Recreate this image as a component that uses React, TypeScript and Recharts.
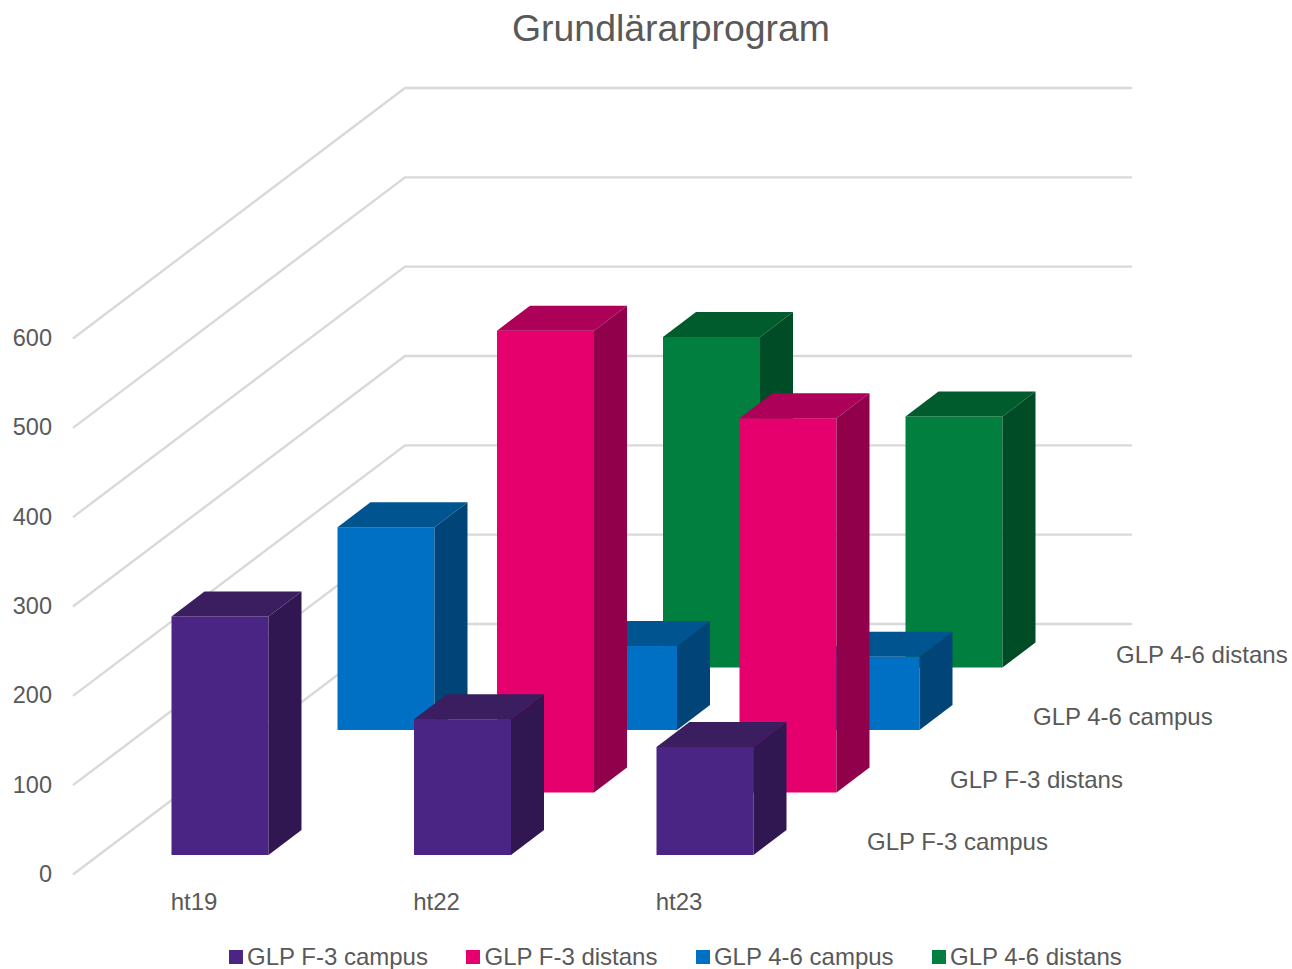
import { BarChart, Bar, XAxis, YAxis, Legend, CartesianGrid } from "recharts";

const periods = ["ht19", "ht22", "ht23"];
const seriesNames = ["GLP F-3 campus", "GLP F-3 distans", "GLP 4-6 campus", "GLP 4-6 distans"];
const f3Campus = [267, 152, 121];
const f3Distans = [null, 517, 419];
const campus46 = [227, 94, 82];
const distans46 = [null, 370, 281];
const yTicks = [0, 100, 200, 300, 400, 500, 600];

const chartData = periods.map((period, i) => ({
  period,
  [seriesNames[0]]: f3Campus[i],
  [seriesNames[1]]: f3Distans[i],
  [seriesNames[2]]: campus46[i],
  [seriesNames[3]]: distans46[i],
}));

// front, top and side shades of every series
const palette = [
  { front: "#4a2583", top: "#3a1e60", side: "#311752" },
  { front: "#e6006e", top: "#ad0059", side: "#91004a" },
  { front: "#0070c5", top: "#005590", side: "#004478" },
  { front: "#007f3f", top: "#005c2d", side: "#004c26" },
];

const textColor = "#595959";
const font = "'Liberation Sans', Arial, sans-serif";
const labelSize = 24;
const barWidth = 97;

// the fake 3D: how far a series row sits from the front of the floor
const rowStep = { dx: 83, dy: -62.5 };
const rowStart = { dx: 0, dy: -18 };
const barDepth = { dx: 33, dy: -25 };
const wallEnd = 1132;

function Bar3D(props: any) {
  const { x, y, width, height, row } = props;
  if (!height || height <= 0) return null;
  const c = palette[row];
  const ox = x + rowStart.dx + rowStep.dx * row;
  const oy = y + rowStart.dy + rowStep.dy * row;
  const d = barDepth;
  const top = `${ox},${oy} ${ox + width},${oy} ${ox + width + d.dx},${oy + d.dy} ${ox + d.dx},${oy + d.dy}`;
  const side = `${ox + width},${oy} ${ox + width + d.dx},${oy + d.dy} ${ox + width + d.dx},${oy + height + d.dy} ${ox + width},${oy + height}`;
  return (
    <g>
      <rect x={ox} y={oy} width={width} height={height} fill={c.front} />
      <polygon points={top} fill={c.top} />
      <polygon points={side} fill={c.side} />
    </g>
  );
}

// grid line bent along the side wall and the back wall
function wallLine(props: any) {
  const y = props.y1;
  const pts = `73,${y + 1.5} 405,${y - 249} ${wallEnd},${y - 249}`;
  return <polyline key={props.key ?? y} points={pts} fill="none" stroke="#d9d9d9" strokeWidth={2.4} />;
}

function ValueTick(props: any) {
  const { y, payload } = props;
  return (
    <text x={52} y={y + 9} textAnchor="end" fontSize={23.5} fontFamily={font} fill={textColor}>
      {payload.value}
    </text>
  );
}

function PeriodTick(props: any) {
  const { x, payload } = props;
  return (
    <text x={x - 49} y={910} fontSize={labelSize} fontFamily={font} fill={textColor}>
      {payload.value}
    </text>
  );
}

function LegendRow({ payload }: any) {
  return (
    <div style={{ display: "flex", gap: 38.5, fontFamily: font, fontSize: labelSize, color: textColor, whiteSpace: "nowrap" }}>
      {(payload ?? []).map((item: any) => (
        <div key={item.value} style={{ display: "flex", alignItems: "center", gap: 4 }}>
          <span style={{ width: 14, height: 14, background: item.color, display: "inline-block" }} />
          <span>{item.value}</span>
        </div>
      ))}
    </div>
  );
}

export default function App() {
  return (
    <div style={{ position: "absolute", left: 0, top: 0, width: 1292, height: 969, background: "#fff" }}>
      <BarChart
        width={1292}
        height={969}
        data={chartData}
        margin={{ top: 337, right: 466, bottom: 2, left: 0 }}
        barSize={barWidth}
        barGap={-barWidth}
      >
        <text x={671} y={41} textAnchor="middle" fontSize={37.4} fontFamily={font} fill={textColor}>
          Grundlärarprogram
        </text>
        <CartesianGrid vertical={false} horizontal={wallLine} />
        <YAxis
          width={98.5}
          domain={[0, 600]}
          ticks={yTicks}
          axisLine={false}
          tickLine={false}
          tick={<ValueTick />}
          interval={0}
        />
        <XAxis dataKey="period" height={66} axisLine={false} tickLine={false} tick={<PeriodTick />} />
        <Legend
          verticalAlign="bottom"
          itemSorter={(item: any) => seriesNames.indexOf(item.value)}
          content={<LegendRow />}
          wrapperStyle={{ left: 229, width: 950, top: 943, bottom: "auto" }}
        />
        {[3, 2, 1, 0].map((row) => (
          <Bar
            key={seriesNames[row]}
            dataKey={seriesNames[row]}
            fill={palette[row].front}
            isAnimationActive={false}
            shape={(p: any) => <Bar3D {...p} row={row} />}
          />
        ))}
        {seriesNames.map((name, row) => (
          <text
            key={name}
            x={867 + rowStep.dx * row}
            y={850 + rowStep.dy * row}
            fontSize={labelSize}
            fontFamily={font}
            fill={textColor}
          >
            {name}
          </text>
        ))}
      </BarChart>
    </div>
  );
}
